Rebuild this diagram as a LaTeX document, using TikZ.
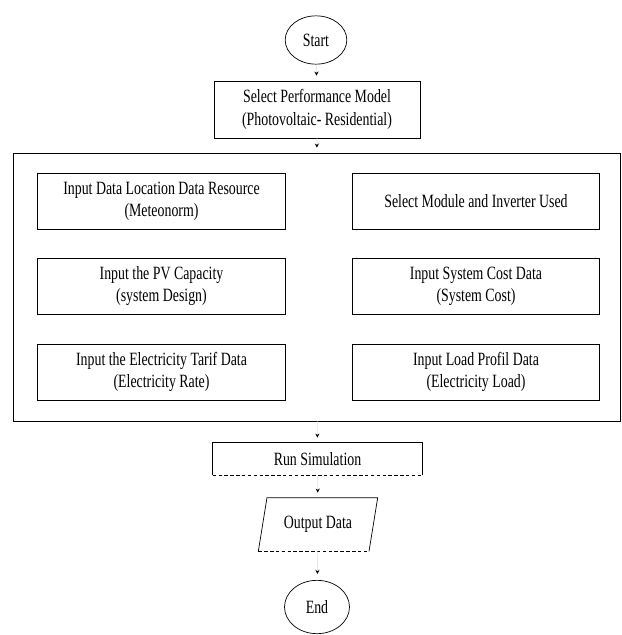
\documentclass[tikz,border=0pt]{standalone}
\usepackage{fontspec}
\setmainfont{Liberation Serif}[FakeStretch=0.74]
\usetikzlibrary{arrows.meta,shapes.geometric}

\begin{document}
\begin{tikzpicture}[>=Stealth,line width=0.6pt,x=0.03cm,y=-0.03cm,
  txt/.style={font=\fontsize{16}{19}\selectfont},
  box/.style={txt,draw,rectangle,align=center,inner sep=0pt},
  inbox/.style={box,minimum width=7.42cm,minimum height=1.68cm},
  term/.style={txt,draw,ellipse,inner sep=0pt},
  link/.style={draw=gray!20,-{Stealth[black,length=3.5pt,width=3.5pt]},shorten >=0.15cm}]
\useasboundingbox (0,0) rectangle (622,635);
\def\lx{161.5}
\def\rx{476}
% ---- start and model ----
\node[term,minimum width=1.85cm,minimum height=1.45cm] (start) at (316,40) {Start};
\node[box,minimum width=6.18cm,minimum height=1.71cm] (model) at (317,109.5)
  {Select Performance Model\\(Photovoltaic- Residential)};
% ---- input block with six boxes ----
\node[draw,rectangle,minimum width=18.21cm,minimum height=8.04cm] (inputs) at (316.5,287) {};
\node[inbox] (loc) at (\lx,201) {Input Data Location Data Resource\\(Meteonorm)};
\node[inbox] (cap) at (\lx,286) {Input the PV Capacity\\(system Design)};
\node[inbox] (tarif) at (\lx,372) {Input the Electricity Tarif Data\\(Electricity Rate)};
\node[inbox] (module) at (\rx,201) {Select Module and Inverter Used};
\node[inbox] (cost) at (\rx,286) {Input System Cost Data\\(System Cost)};
\node[inbox] (load) at (\rx,372) {Input Load Profil Data\\(Electricity Load)};
% ---- simulation, output, end (bottom edges dashed) ----
\node[txt,minimum width=6.27cm,minimum height=0.96cm,inner sep=0pt] (run) at (317.5,459) {Run Simulation};
\draw (run.south west) -- (run.north west) -- (run.north east) -- (run.south east);
\draw[densely dashed] (run.south west) -- (run.south east);
\node[txt,minimum width=3.3cm,minimum height=1.59cm,inner sep=0pt] (out) at (318,524.5) {Output Data};
\draw ([xshift=-0.13cm]out.south west) -- ([xshift=0.13cm]out.north west)
  -- ([xshift=0.13cm]out.north east) -- ([xshift=-0.13cm]out.south east);
\draw[densely dashed] ([xshift=-0.13cm]out.south west) -- ([xshift=-0.13cm]out.south east);
\node[term,minimum width=1.95cm,minimum height=1.6cm] (end) at (317,607) {End};
% ---- connectors ----
\draw[link] (start) -- (model);
\draw[link] (model) -- (inputs);
\draw[link] (inputs) -- (run);
\draw[link] (run) -- (out);
\draw[link,shorten >=0.18cm] (out) -- (end);
\end{tikzpicture}
\end{document}
